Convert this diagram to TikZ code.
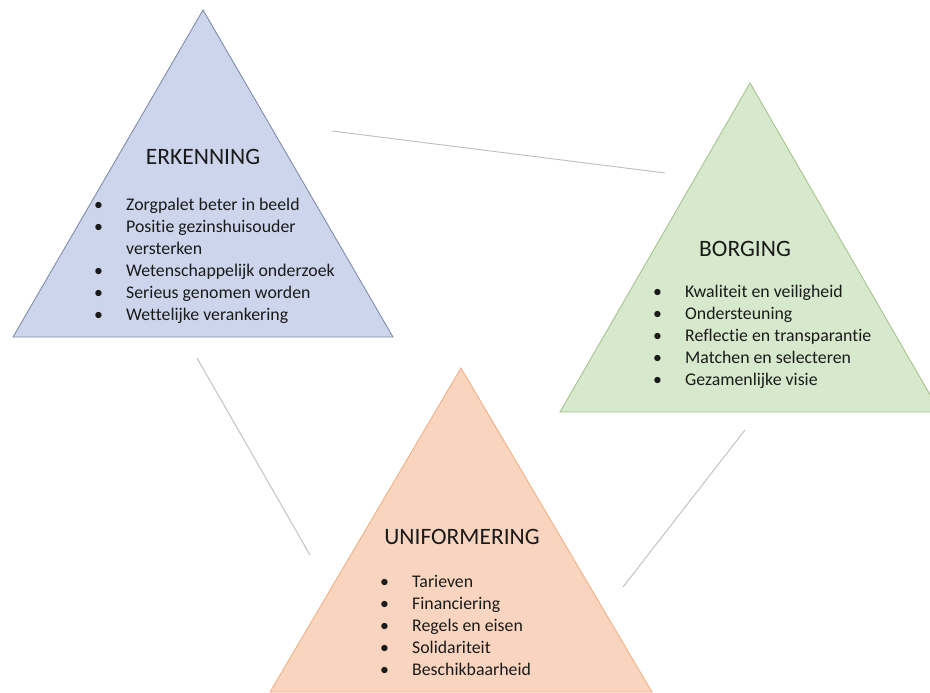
\documentclass[tikz,border=0pt]{standalone}
\usepackage{fontspec}
\setmainfont{Carlito}[Ligatures=NoCommon]
\definecolor{erkFill}{HTML}{CCD5EB}
\definecolor{erkLine}{HTML}{7F8DAA}
\definecolor{borFill}{HTML}{D7E9CC}
\definecolor{borLine}{HTML}{A6C48E}
\definecolor{uniFill}{HTML}{F9D5C0}
\definecolor{uniLine}{HTML}{F2B183}
\definecolor{linkGray}{HTML}{BDBDBD}
\definecolor{txt}{HTML}{1A1A1A}
\newcommand{\bul}{\makebox[32pt][l]{•}}
\newcommand{\cont}{\hspace*{32pt}}

\begin{document}
\begin{tikzpicture}
[
    x=1pt, y=-1pt,
    title/.style={font=\fontsize{23.5}{28}\selectfont, text=txt, inner sep=0pt},
    itemlist/.style={font=\fontsize{17.8}{22}\selectfont, text=txt, align=left, inner sep=0pt, anchor=north west},
    link/.style={draw=linkGray, line width=0.9pt},
]
\useasboundingbox (0,0) rectangle (930,693);
\clip (0,0) rectangle (930,693);

% triangles
\coordinate (erkTop) at (203,10);
\coordinate (erkLeft) at (13,337);
\coordinate (erkRight) at (393,337);
\coordinate (borTop) at (750,83);
\coordinate (borLeft) at (560,412);
\coordinate (borRight) at (940,412);
\coordinate (uniTop) at (461,368);
\coordinate (uniLeft) at (270,692);
\coordinate (uniRight) at (652,692);

\draw[fill=erkFill, draw=erkLine, line width=0.9pt] (erkTop) -- (erkLeft) -- (erkRight) -- cycle;
\draw[fill=borFill, draw=borLine, line width=0.9pt] (borTop) -- (borLeft) -- (borRight) -- cycle;
\draw[fill=uniFill, draw=uniLine, line width=0.9pt] (uniTop) -- (uniLeft) -- (uniRight) -- cycle;

% connectors
\coordinate (linkAa) at (332,131);
\coordinate (linkAb) at (665,173);
\coordinate (linkBa) at (197,358);
\coordinate (linkBb) at (310,555);
\coordinate (linkCa) at (745,430);
\coordinate (linkCb) at (623,587);
\draw[link] (linkAa) -- (linkAb);
\draw[link] (linkBa) -- (linkBb);
\draw[link] (linkCa) -- (linkCb);

% titles
\node[title] (erkTitle) at (203,157) {ERKENNING};
\node[title] (borTitle) at (745,249) {BORGING};
\node[title] (uniTitle) at (462,537) {UNIFORMERING};

% lists
\node[itemlist] (erkList) at (94,198)
{\bul Zorgpalet beter in beeld\\
 \bul Positie gezinshuisouder\\
 \cont versterken\\
 \bul Wetenschappelijk onderzoek\\
 \bul Serieus genomen worden\\
 \bul Wettelijke verankering};
\node[itemlist] (borList) at (653,285)
{\bul Kwaliteit en veiligheid\\
 \bul Ondersteuning\\
 \bul Reflectie en transparantie\\
 \bul Matchen en selecteren\\
 \bul Gezamenlijke visie};
\node[itemlist] (uniList) at (380,575)
{\bul Tarieven\\
 \bul Financiering\\
 \bul Regels en eisen\\
 \bul Solidariteit\\
 \bul Beschikbaarheid};
\end{tikzpicture}
\end{document}
